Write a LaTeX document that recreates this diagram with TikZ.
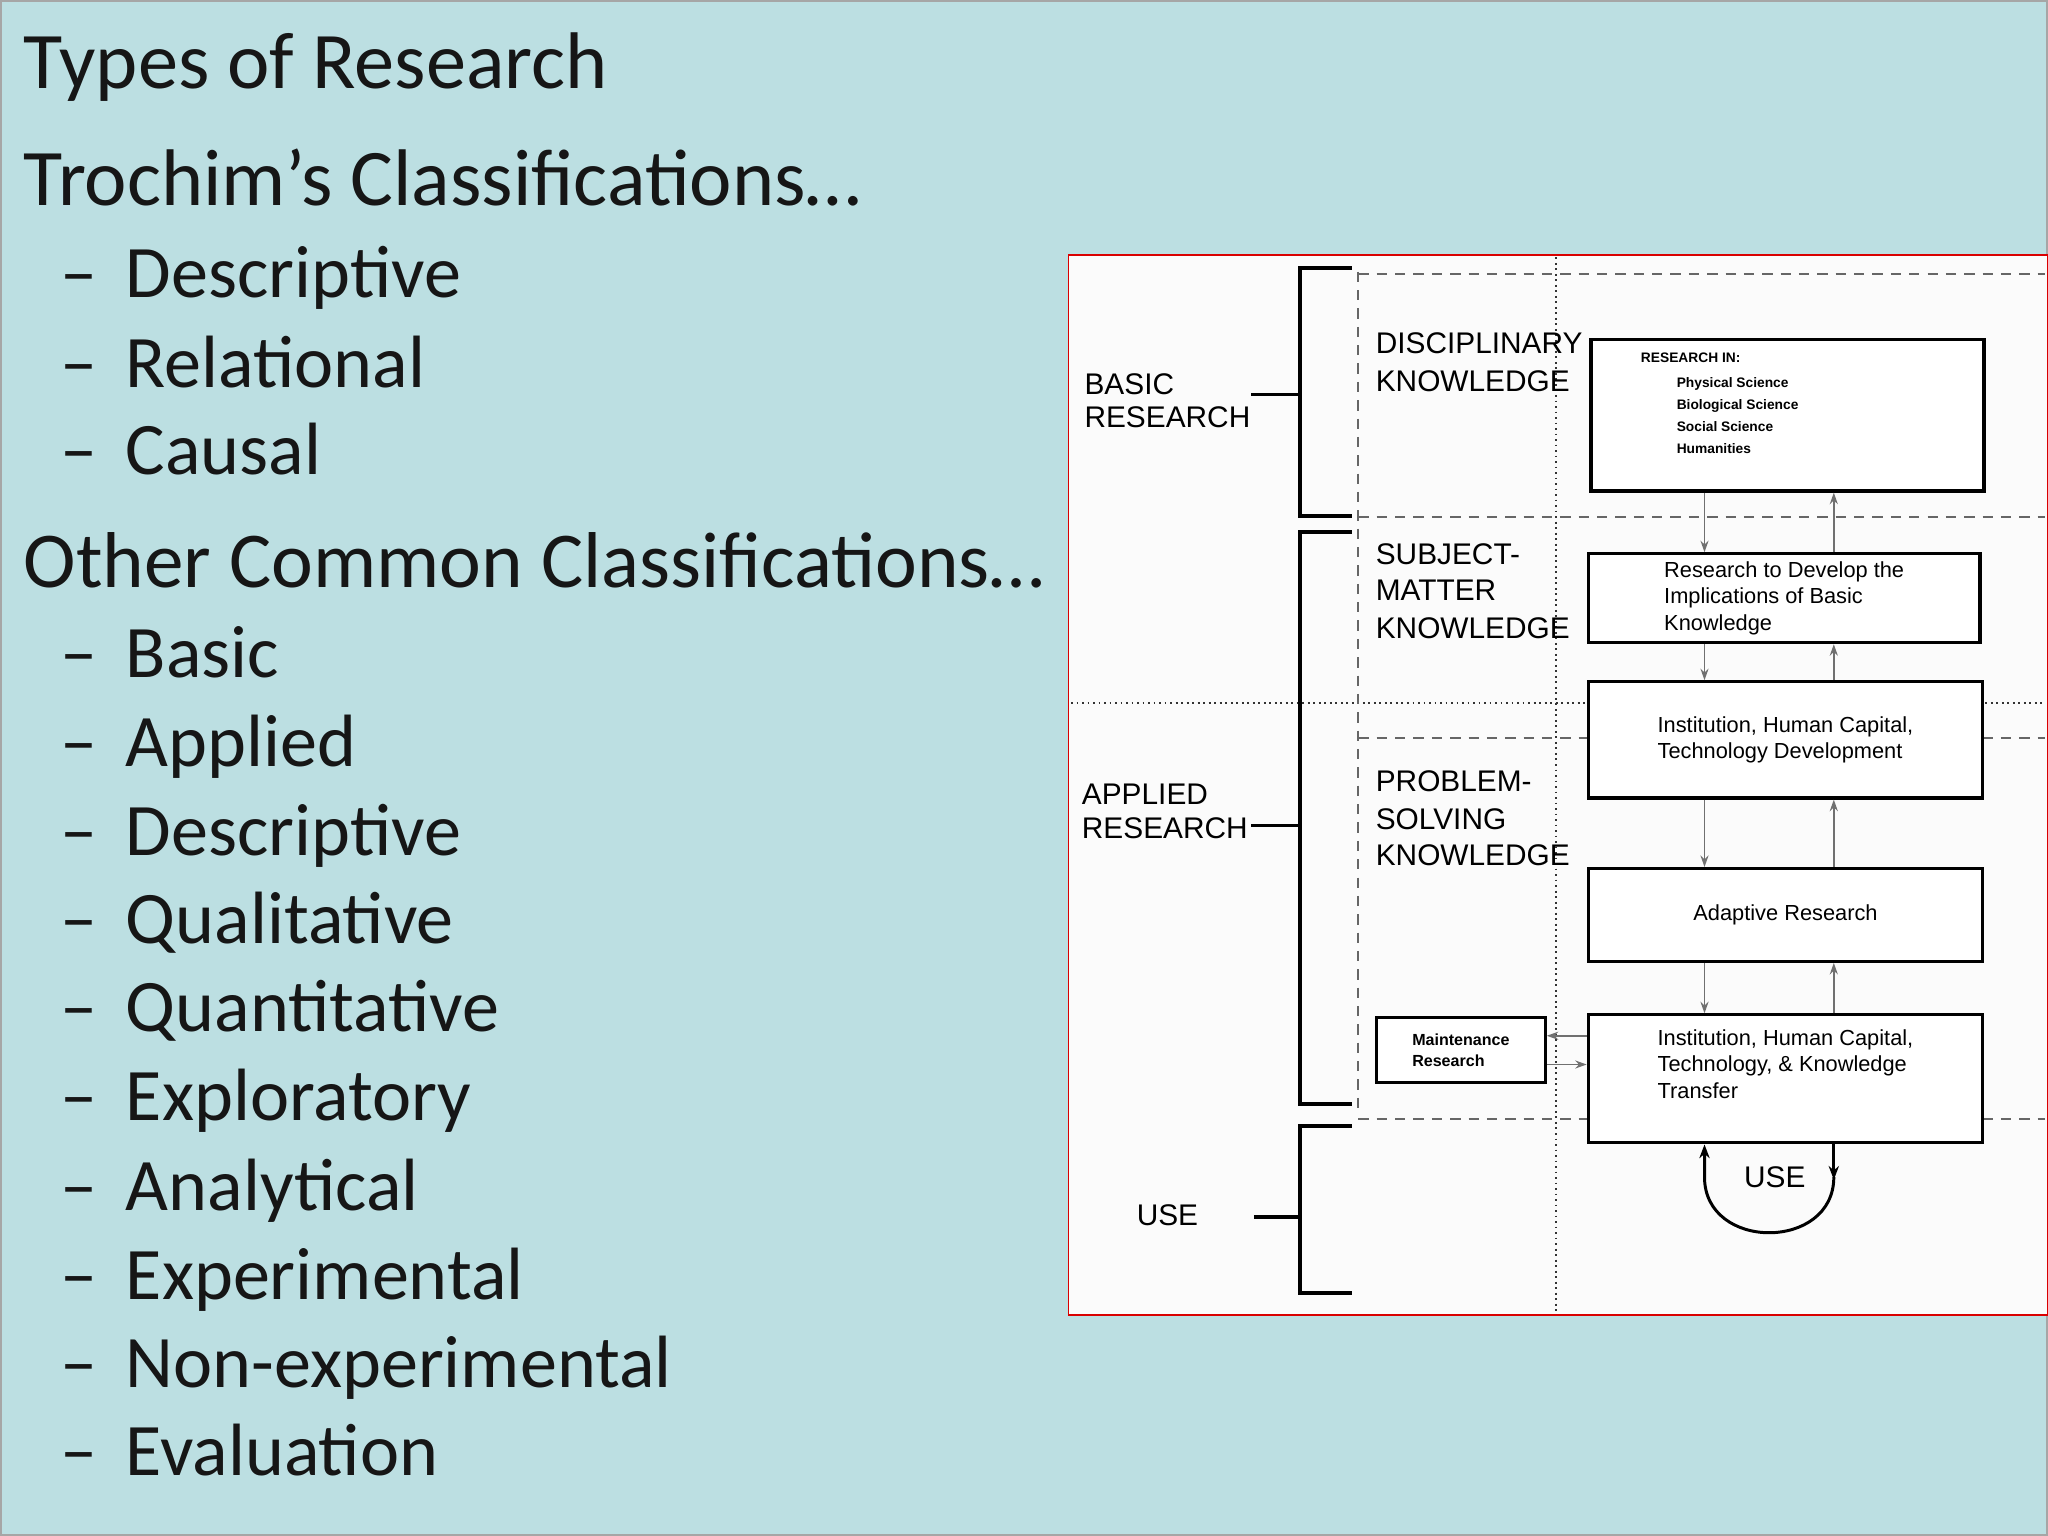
\documentclass[tikz,border=0pt]{standalone}
\usepackage{fontspec}
\setmainfont{Carlito}
\newfontfamily\helv{Liberation Sans}
\usetikzlibrary{arrows.meta,calc}
\definecolor{bgc}{HTML}{BCDFE2}
\definecolor{txt}{HTML}{161616}
\definecolor{gar}{HTML}{707070}
\tikzset{
  ttl/.style={anchor=base west,inner sep=0pt,text=txt,font=\fontsize{35}{40}\selectfont},
  big/.style={anchor=base west,inner sep=0pt,text=txt,font=\fontsize{34.5}{40}\selectfont},
  item/.style={anchor=base west,inner sep=0pt,text=txt,font=\fontsize{32.3}{38}\selectfont},
  lab/.style={anchor=base west,inner sep=0pt,font=\helv\fontsize{13}{15}\selectfont},
  brk/.style={line width=1.7pt,black},
  dsh/.style={line width=0.9pt,gray!80!black,dash pattern=on 4.5pt off 3.5pt},
  dtt/.style={line width=0.8pt,black!80,dash pattern=on 0.8pt off 1.6pt},
  box/.style={draw,line width=1.4pt,fill=white,align=left,inner sep=0pt,font=\helv\fontsize{9.5}{11.5}\selectfont},
  arr/.style={gar,line width=0.8pt,-{Stealth[length=5pt,width=3.5pt]}},
}
\begin{document}
\begin{tikzpicture}[x=0.02cm,y=-0.02cm]
\useasboundingbox (0,0) rectangle (1568,1176);
\fill[bgc] (0,0) rectangle (1568,1176);
\draw[gray!70,line width=1pt] (0.5,0.5) rectangle (1567.5,1175.5);
% left text
\node[ttl] (t1) at (18,68) {Types of Research};
\node[ttl] (t2) at (18,157) {Trochim’s Classifications…};
\foreach \y/\t [count=\i] in {228/Descriptive,297/Relational,363/Causal}{
  \node[item] (da\i) at (46,\y) {–};
  \node[item] (a\i) at (96,\y) {\t};
}
\node[big] (t3) at (18,450) {Other Common Classifications…};
\foreach \y/\t [count=\i] in {519/Basic,587/Applied,655/Descriptive,722/Qualitative,790/Quantitative,858/Exploratory,927/Analytical,995/Experimental,1062/Non-experimental,1130/Evaluation}{
  \node[item] (db\i) at (46,\y) {–};
  \node[item] (b\i) at (96,\y) {\t};
}
% diagram panel
\fill[white!97!gray] (818,195) rectangle (1568,1007);
\draw[red!85!black,line width=0.8pt] (818,195) rectangle (1568,1007);
% guide lines
\draw[dtt] (1191,197) -- (1191,1005);
\draw[dtt] (820,538) -- (1566,538);
\draw[dsh] (1040,208) -- (1040,852);
\draw[dsh] (1040,210) -- (1566,210);
\draw[dsh] (1040,396) -- (1566,396);
\draw[dsh] (1040,565) -- (1566,565);
\draw[dsh] (1040,857) -- (1566,857);
% brackets
\draw[brk] (1035,205) -- (995,205) -- (995,395) -- (1035,395);
\draw[brk] (958,302) -- (995,302);
\draw[brk] (1035,407) -- (995,407) -- (995,845) -- (1035,845);
\draw[brk] (958,632) -- (995,632);
\draw[brk] (1035,862) -- (995,862) -- (995,990) -- (1035,990);
\draw[brk] (960,932) -- (995,932);
% left labels
\node[lab] (l1) at (830,302) {BASIC};
\node[lab] (l2) at (830,327) {RESEARCH};
\node[lab] (l3) at (828,616) {APPLIED};
\node[lab] (l4) at (828,642) {RESEARCH};
\node[lab] (l5) at (870,938) {USE};
% column labels
\node[lab] (k1) at (1053,271) {DISCIPLINARY};
\node[lab] (k2) at (1053,300) {KNOWLEDGE};
\node[lab] (k3) at (1053,432) {SUBJECT-};
\node[lab] (k4) at (1053,460) {MATTER};
\node[lab] (k5) at (1053,489) {KNOWLEDGE};
\node[lab] (k6) at (1053,606) {PROBLEM-};
\node[lab] (k7) at (1053,635) {SOLVING};
\node[lab] (k8) at (1053,663) {KNOWLEDGE};
% boxes
\node[box,minimum width=6.02cm,minimum height=2.32cm] (bx1) at (1368.5,318) {};
\node[anchor=north west,inner sep=0pt,align=left,font=\helv\bfseries\fontsize{6}{9.6}\selectfont] (bx1t) at (1256,270) {RESEARCH IN:\\[1pt]\hspace{2.6em}Physical Science\\\hspace{2.6em}Biological Science\\\hspace{2.6em}Social Science\\\hspace{2.6em}Humanities};
\node[box,minimum width=6.0cm,minimum height=1.36cm] (bx2) at (1366,458) {Research to Develop the\\Implications of Basic\\Knowledge};
\node[box,minimum width=6.04cm,minimum height=1.78cm] (bx3) at (1367,566.5) {Institution, Human Capital,\\Technology Development};
\node[box,minimum width=6.04cm,minimum height=1.42cm] (bx4) at (1367,700.5) {Adaptive Research};
\node[box,minimum width=6.04cm,minimum height=1.96cm,text depth=1.3em] (bx5) at (1367,826) {Institution, Human Capital,\\Technology, \& Knowledge\\Transfer};
\node[box,minimum width=2.58cm,minimum height=1.0cm,font=\helv\bfseries\fontsize{7}{9}\selectfont] (mr) at (1118.5,804) {Maintenance\\Research};
% arrows
\coordinate (d) at (1305,0);
\coordinate (u) at (1404,0);
\draw[arr] (bx1.south -| d) -- (bx2.north -| d);
\draw[arr] (bx2.north -| u) -- (bx1.south -| u);
\draw[arr] (bx2.south -| d) -- (bx3.north -| d);
\draw[arr] (bx3.north -| u) -- (bx2.south -| u);
\draw[arr] (bx3.south -| d) -- (bx4.north -| d);
\draw[arr] (bx4.north -| u) -- (bx3.south -| u);
\draw[arr] (bx4.south -| d) -- (bx5.north -| d);
\draw[arr] (bx5.north -| u) -- (bx4.south -| u);
\draw[arr] (bx5.west |- 0,793) -- (mr.east |- 0,793);
\draw[arr] (mr.east |- 0,815) -- (bx5.west |- 0,815);
% use loop
\draw[line width=1.3pt,-{Stealth[length=6pt,width=4.5pt]}] (bx5.south -| u) -- ++(0,27);
\draw[line width=1.3pt,-{Stealth[length=6pt,width=4.5pt]}] ($(bx5.south -| u)+(0,25)$) .. controls (1404,958) and (1305,958) .. ($(bx5.south -| d)+(0,25)$) -- (bx5.south -| d);
\node[lab] (use) at (1335,909) {USE};
\end{tikzpicture}
\end{document}
